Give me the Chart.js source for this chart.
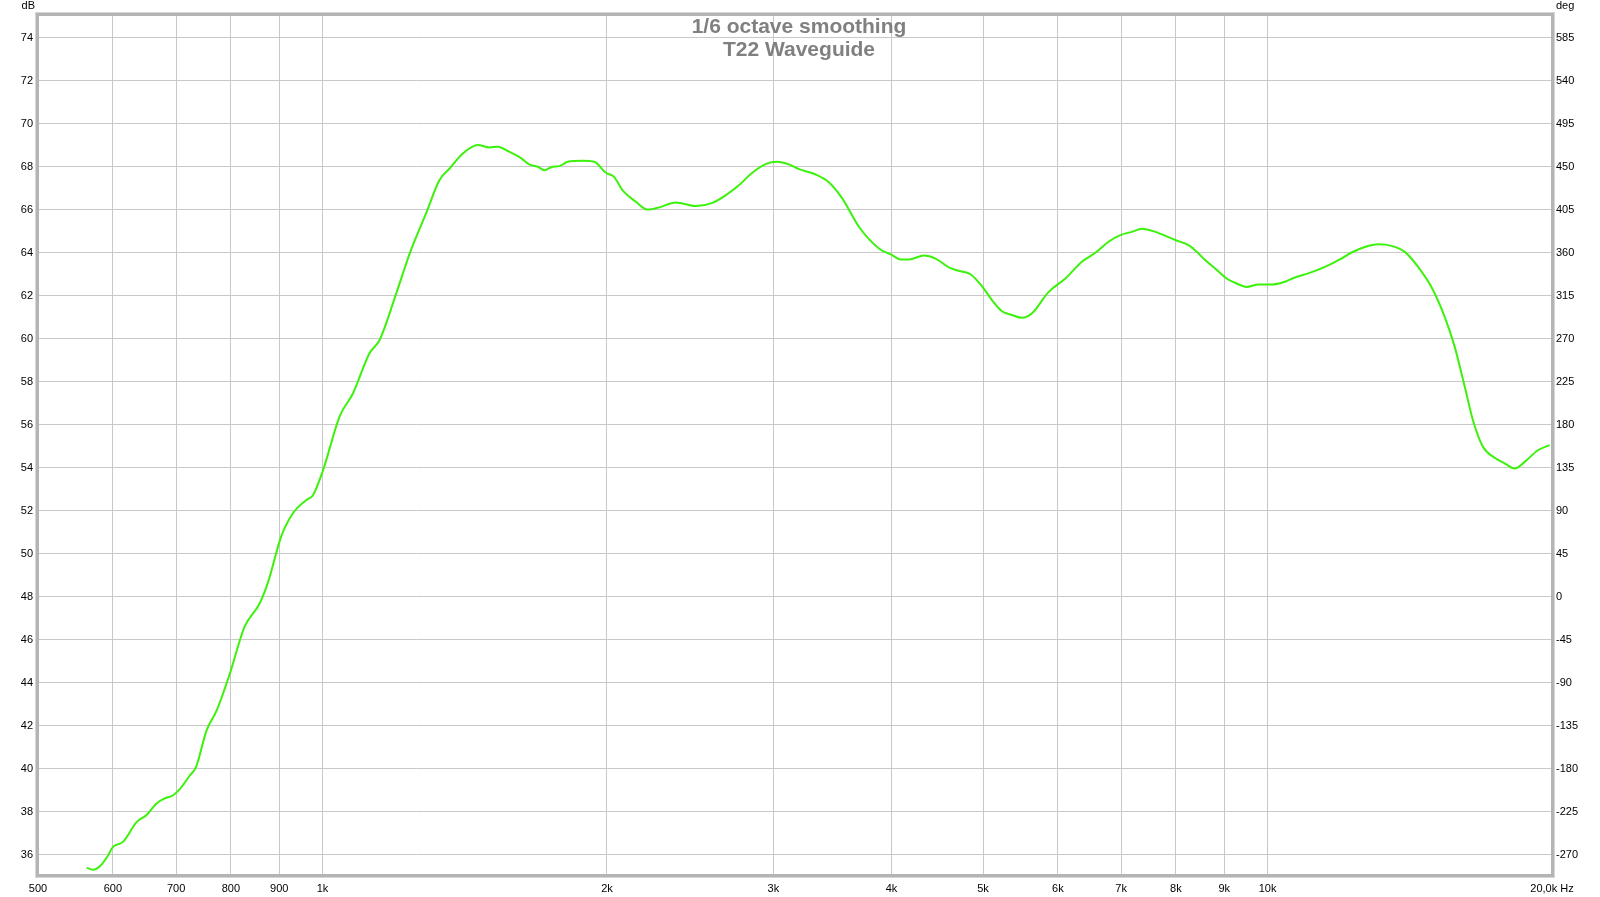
<!DOCTYPE html>
<html>
<head>
<meta charset="utf-8">
<script src="https://cdn.jsdelivr.net/npm/chart.js@4.4.1/dist/chart.umd.min.js"></script>
<style>
  html, body { margin: 0; padding: 0; background: #ffffff; }
  #wrap { width: 1600px; height: 897px; }
</style>
</head>
<body>
<div id="wrap"><canvas id="c" width="1600" height="897"></canvas></div>
<script>
// ---- data ----
const titleLines = ['1/6 octave smoothing', 'T22 Waveguide'];
const freqHz = [563, 572, 581, 592, 600, 615, 636, 651, 667, 680, 695, 707, 724, 735, 754, 773, 798, 827, 858, 876, 904, 930, 961, 977, 1000, 1043, 1077, 1121, 1149, 1197, 1237, 1287, 1330, 1363, 1408, 1460, 1502, 1532, 1576, 1615, 1655, 1690, 1717, 1752, 1781, 1817, 1885, 1939, 1995, 2035, 2077, 2146, 2207, 2271, 2365, 2484, 2586, 2672, 2760, 2850, 2944, 3029, 3116, 3193, 3326, 3436, 3548, 3695, 3880, 4007, 4090, 4174, 4329, 4454, 4599, 4712, 4849, 4988, 5110, 5236, 5367, 5497, 5634, 5867, 6111, 6362, 6574, 6789, 6986, 7184, 7363, 7606, 7986, 8249, 8418, 8590, 8802, 9051, 9273, 9503, 9778, 10100, 10433, 10690, 11044, 11502, 11929, 12271, 12676, 13094, 13527, 13973, 14433, 14909, 15400, 15780, 16171, 16496, 16903, 17390, 17821, 18262, 18712, 19326, 19885];
const splDb = [35.38, 35.3, 35.45, 35.9, 36.35, 36.59, 37.52, 37.83, 38.37, 38.6, 38.76, 39.07, 39.69, 40.08, 41.78, 42.72, 44.42, 46.59, 47.68, 48.69, 50.78, 51.87, 52.49, 52.72, 53.8, 56.4, 57.45, 59.31, 59.93, 62.11, 63.97, 65.83, 67.38, 67.92, 68.62, 69.01, 68.9, 68.93, 68.7, 68.46, 68.11, 68.0, 67.84, 68.0, 68.03, 68.23, 68.28, 68.23, 67.72, 67.53, 66.91, 66.37, 66.01, 66.11, 66.34, 66.17, 66.32, 66.68, 67.15, 67.72, 68.12, 68.23, 68.11, 67.89, 67.64, 67.27, 66.53, 65.21, 64.2, 63.89, 63.69, 63.69, 63.87, 63.73, 63.32, 63.16, 63.0, 62.44, 61.8, 61.28, 61.1, 60.97, 61.18, 62.18, 62.8, 63.58, 64.0, 64.51, 64.82, 64.97, 65.11, 64.97, 64.59, 64.35, 64.04, 63.66, 63.27, 62.8, 62.57, 62.41, 62.52, 62.52, 62.65, 62.85, 63.04, 63.34, 63.69, 64.01, 64.27, 64.39, 64.32, 64.04, 63.34, 62.41, 61.02, 59.62, 57.76, 56.21, 54.97, 54.46, 54.2, 53.96, 54.27, 54.81, 55.05];
const xTickValues = [500, 600, 700, 800, 900, 1000, 2000, 3000, 4000, 5000, 6000, 7000, 8000, 9000, 10000, 20000];
const xTickLabels = ['500', '600', '700', '800', '900', '1k', '2k', '3k', '4k', '5k', '6k', '7k', '8k', '9k', '10k', '20,0k Hz'];
const dbTicks = [36, 38, 40, 42, 44, 46, 48, 50, 52, 54, 56, 58, 60, 62, 64, 66, 68, 70, 72, 74];
const degTicks = [-270, -225, -180, -135, -90, -45, 0, 45, 90, 135, 180, 225, 270, 315, 360, 405, 450, 495, 540, 585];
const leftUnit = 'dB';
const rightUnit = 'deg';

// ---- styling ----
const DB_MIN = 35.05, DB_MAX = 75.06;
const degOf = v => (v - 48) * 22.5;
const tickFont = { family: 'Liberation Sans, Arial, sans-serif', size: 11 };
const gridColor = '#c8c8c8';

const points = freqHz.map((f, i) => ({ x: f, y: splDb[i] }));

const framePlugin = {
  id: 'frameAndTitle',
  afterDraw(chart) {
    const ctx = chart.ctx;
    const a = chart.chartArea;
    ctx.save();
    // frame
    ctx.strokeStyle = '#d6d6d6';
    ctx.lineWidth = 1;
    ctx.strokeRect(a.left - 2.5, a.top - 2.5, a.right - a.left + 5, a.bottom - a.top + 5);
    ctx.strokeStyle = '#b4b4b4';
    ctx.lineWidth = 3;
    ctx.strokeRect(a.left - 0.5, a.top - 0.5, a.right - a.left + 1, a.bottom - a.top + 1);
    // title
    ctx.fillStyle = '#808080';
    ctx.font = 'bold 21px "Liberation Sans", Arial, sans-serif';
    ctx.textAlign = 'center';
    ctx.textBaseline = 'alphabetic';
    const cx = (a.left + a.right) / 2 + 4;
    ctx.fillText(titleLines[0], cx, 33);
    ctx.fillText(titleLines[1], cx, 56);
    // unit labels
    ctx.fillStyle = '#000000';
    ctx.font = '11px "Liberation Sans", Arial, sans-serif';
    ctx.textAlign = 'right';
    ctx.fillText(leftUnit, 35, 9);
    ctx.textAlign = 'left';
    ctx.fillText(rightUnit, 1556, 9);
    ctx.restore();
  }
};

new Chart(document.getElementById('c'), {
  type: 'line',
  data: {
    datasets: [{
      data: points,
      borderColor: 'rgb(60,242,12)',
      borderWidth: 2,
      pointRadius: 0,
      cubicInterpolationMode: 'monotone',
      fill: false
    }]
  },
  options: {
    responsive: false,
    animation: false,
    events: [],
    layout: { padding: { top: 15, left: 0, right: 0, bottom: 0 } },
    plugins: { legend: { display: false }, title: { display: false }, tooltip: { enabled: false } },
    scales: {
      x: {
        type: 'logarithmic',
        min: 500,
        max: 20000,
        afterBuildTicks: s => { s.ticks = xTickValues.map(v => ({ value: v })); },
        afterFit: s => { s.height = 22; },
        grid: { color: gridColor, lineWidth: 1, drawTicks: false },
        border: { display: false },
        ticks: {
          autoSkip: false, maxRotation: 0, minRotation: 0, padding: 7,
          color: '#000', font: tickFont,
          callback: (v, i) => xTickLabels[i]
        }
      },
      y: {
        type: 'linear',
        position: 'left',
        min: DB_MIN,
        max: DB_MAX,
        afterBuildTicks: s => { s.ticks = dbTicks.map(v => ({ value: v })); },
        afterFit: s => { s.width = 38; },
        grid: { color: gridColor, lineWidth: 1, drawTicks: false },
        border: { display: false },
        ticks: { padding: 5, color: '#000', font: tickFont, callback: v => String(v) }
      },
      y2: {
        type: 'linear',
        position: 'right',
        min: degOf(DB_MIN),
        max: degOf(DB_MAX),
        afterBuildTicks: s => { s.ticks = degTicks.map(v => ({ value: v })); },
        afterFit: s => { s.width = 48; },
        grid: { display: false, drawTicks: false },
        border: { display: false },
        ticks: { padding: 4, color: '#000', font: tickFont, callback: v => String(v) }
      }
    }
  },
  plugins: [framePlugin]
});
</script>
</body>
</html>
